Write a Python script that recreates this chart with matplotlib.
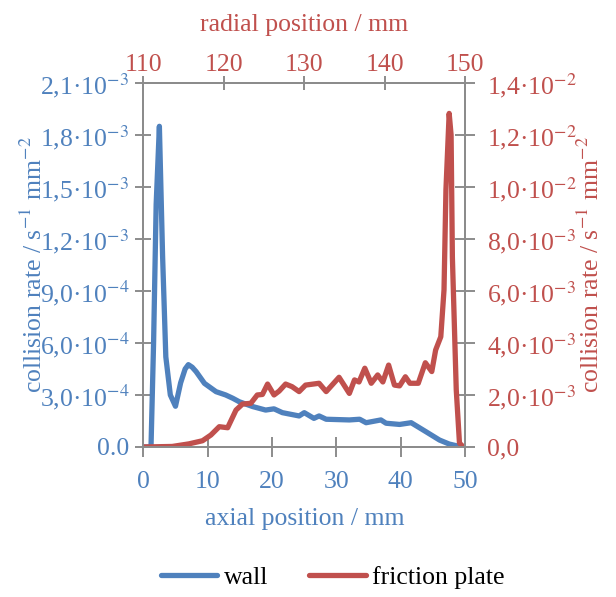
import matplotlib
matplotlib.use('Agg')
import matplotlib.pyplot as plt
import numpy as np

plt.rcParams['font.family'] = ['Liberation Serif', 'DejaVu Serif']
plt.rcParams['mathtext.fontset'] = 'stix'

blue = '#4F81BD'
red = '#C0504D'
grey = '#8C8C8C'

# wall collision rate (axial position in mm, rate in 1e-4 1/(s mm^2))
wall_x = [0, 1.2, 1.6, 2.0, 2.5, 3.0, 3.5, 4.2, 5.0, 5.8, 6.5, 7.0, 7.6, 8.2, 9.5,
          11.3, 12.8, 13.9, 14.9, 17.0, 19.0, 20.3, 21.6, 24.2, 25.0, 26.5, 27.3,
          28.4, 32.0, 33.6, 34.6, 36.9, 37.7, 39.8, 41.6, 43.9, 46.0, 47.5, 49.1, 50]
wall_y = [0, 0, 6, 14, 18.5, 11, 5.2, 3.0, 2.35, 3.7, 4.5, 4.75, 4.6, 4.35, 3.67,
          3.19, 3.0, 2.81, 2.61, 2.33, 2.13, 2.2, 1.98, 1.79, 1.98, 1.65, 1.79,
          1.6, 1.56, 1.6, 1.4, 1.56, 1.37, 1.3, 1.4, 0.88, 0.4, 0.17, 0.03, 0]

# friction plate collision rate (rate in 1e-3 1/(s mm^2))
plate_x = [0, 4.5, 7.1, 9.2, 10.5, 11.8, 13.1, 14.4, 15.4, 16.7, 17.7, 18.5, 19.3,
           20.3, 21.1, 22.1, 23.1, 24.2, 25.2, 27.3, 28.4, 30.4, 32.0, 32.8, 33.5,
           34.4, 35.4, 36.4, 37.2, 38.1, 39.0, 39.8, 40.7, 41.4, 42.7, 43.8, 44.8,
           45.4, 46.2, 46.7, 47.0, 47.5, 47.8, 48.0, 48.6, 49.1, 49.7]
plate_y = [0, 0.02, 0.12, 0.24, 0.46, 0.78, 0.74, 1.42, 1.65, 1.68, 2.0, 2.02, 2.42,
           2.0, 2.15, 2.42, 2.32, 2.13, 2.38, 2.45, 2.13, 2.68, 2.06, 2.58, 2.5,
           3.03, 2.45, 2.77, 2.5, 3.15, 2.38, 2.35, 2.7, 2.45, 2.45, 3.24, 2.9,
           3.73, 4.24, 6.04, 9.9, 12.83, 12.0, 7.3, 2.2, 0.15, 0]

left_ticks = [0, 3e-4, 6e-4, 9e-4, 1.2e-3, 1.5e-3, 1.8e-3, 2.1e-3]
left_labels = ['0.0', '3,0·10$^{-4}$', '6,0·10$^{-4}$', '9,0·10$^{-4}$',
               '1,2·10$^{-3}$', '1,5·10$^{-3}$', '1,8·10$^{-3}$', '2,1·10$^{-3}$']
right_ticks = [0, 2e-3, 4e-3, 6e-3, 8e-3, 1e-2, 1.2e-2, 1.4e-2]
right_labels = ['0,0', '2,0·10$^{-3}$', '4,0·10$^{-3}$', '6,0·10$^{-3}$',
                '8,0·10$^{-3}$', '1,0·10$^{-2}$', '1,2·10$^{-2}$', '1,4·10$^{-2}$']
radial_ticks = [110, 120, 130, 140, 150]

fs = 18.5

fig = plt.figure(figsize=(6.16, 5.97), dpi=100)
ax = fig.add_axes([0.2326, 0.2513, 0.5227, 0.6097])
ax2 = ax.twinx()

l1, = ax.plot(wall_x, np.array(wall_y) * 1e-4, color=blue, lw=3.8,
              solid_capstyle='round', solid_joinstyle='round')
l2, = ax2.plot(plate_x, np.array(plate_y) * 1e-3, color=red, lw=3.8,
               solid_capstyle='round', solid_joinstyle='round')

ax.set_xlim(0, 50)
ax.set_ylim(0, 2.1e-3)
ax2.set_ylim(0, 1.4e-2)

ax.set_xticks([0, 10, 20, 30, 40, 50])
ax.set_yticks(left_ticks)
ax.set_yticklabels(left_labels)
ax2.set_yticks(right_ticks)
ax2.set_yticklabels(right_labels)

sec = ax.secondary_xaxis('top', functions=(lambda a: 110 + 0.8 * a, lambda r: (r - 110) / 0.8))
sec.set_xticks(radial_ticks)

for a in (ax, ax2, sec):
    for s in a.spines.values():
        s.set_color(grey)
        s.set_linewidth(1.4)

ax.tick_params(axis='x', direction='inout', length=14, width=1.4, color=grey,
               labelcolor=blue, labelsize=fs, pad=10)
ax.tick_params(axis='y', direction='inout', length=12, width=1.4, color=grey,
               labelcolor=blue, labelsize=fs, pad=4)
ax2.tick_params(axis='y', direction='inout', length=14, width=1.4, color=grey,
                labelcolor=red, labelsize=fs, pad=9)
sec.tick_params(axis='x', direction='inout', length=10, width=1.4, color=grey,
                labelcolor=red, labelsize=fs, pad=0)

ax.set_xlabel('axial position / mm', color=blue, fontsize=fs)
ax.xaxis.set_label_coords(0.5, -0.168)
sec.set_xlabel('radial position / mm', color=red, fontsize=fs)
sec.xaxis.set_label_coords(0.5, 1.143, transform=ax.transAxes)
ax.set_ylabel('collision rate / s$^{-1}$ mm$^{-2}$', color=blue, fontsize=fs)
ax.yaxis.set_label_coords(-0.30, 0.5)
ax2.set_ylabel('collision rate / s$^{-1}$ mm$^{-2}$', color=red, fontsize=fs, rotation=90)
ax2.yaxis.set_label_coords(1.35, 0.5)

fig.legend([l1, l2], ['wall', 'friction plate'], loc='center', bbox_to_anchor=(0.54, 0.033),
           ncol=2, frameon=False, fontsize=fs, handlelength=2.2, handletextpad=0.25,
           columnspacing=1.6)

fig.savefig('out.png', dpi=100)
